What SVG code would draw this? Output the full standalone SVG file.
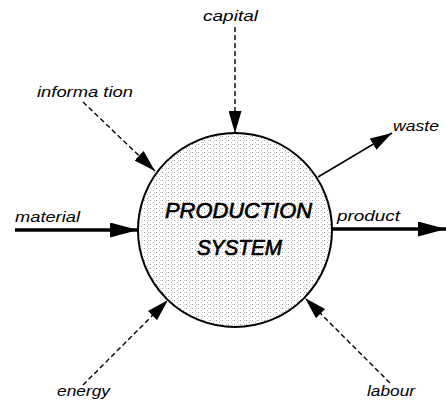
<svg xmlns="http://www.w3.org/2000/svg" width="446" height="405" viewBox="0 0 446 405">
  <style>
    .lbl { font-family: "Liberation Sans", "DejaVu Sans", sans-serif; font-style: italic; font-size: 15px; fill: #000; }
    .big { font-family: "Liberation Sans", "DejaVu Sans", sans-serif; font-style: italic; font-size: 22px; fill: #000; stroke: #000; stroke-width: 0.7; }
    .dash { stroke: #000; stroke-width: 1.4; stroke-dasharray: 5 3; fill: none; }
    .thin { stroke: #000; stroke-width: 1.6; fill: none; }
    .thick { stroke: #000; stroke-width: 3.6; fill: none; }
  </style>
  <defs>
    <pattern id="stipple" width="6" height="4" patternUnits="userSpaceOnUse">
      <rect width="6" height="4" fill="#fff"/>
      <rect x="0" y="0" width="1" height="1" fill="#999"/>
      <rect x="3" y="2" width="1" height="1" fill="#b5b5b5"/>
      <rect x="4" y="0" width="1" height="1" fill="#cccccc"/>
    </pattern>
    <marker id="hs" markerUnits="userSpaceOnUse" viewBox="0 0 22 13" markerWidth="22" markerHeight="13" refX="22" refY="6.5" orient="auto">
      <path d="M0,0 L22,6.5 L0,13 Z" fill="#000"/>
    </marker>
    <marker id="hb" markerUnits="userSpaceOnUse" viewBox="0 0 28 15" markerWidth="28" markerHeight="15" refX="28" refY="7.5" orient="auto">
      <path d="M0,0 L28,7.5 L0,15 Z" fill="#000"/>
    </marker>
  </defs>

  <g id="production-system">
    <circle cx="235" cy="230" r="97" fill="url(#stipple)" stroke="#000" stroke-width="2"/>
    <text class="big" x="165" y="218" textLength="147" lengthAdjust="spacingAndGlyphs">PRODUCTION</text>
    <text class="big" x="197" y="255" textLength="85" lengthAdjust="spacingAndGlyphs">SYSTEM</text>
  </g>

  <g id="labels">
    <g id="capital"><text class="lbl" x="203" y="21" textLength="55" lengthAdjust="spacingAndGlyphs">capital</text></g>
    <g id="information"><text class="lbl" x="37" y="97" textLength="96" lengthAdjust="spacingAndGlyphs">informa tion</text></g>
    <g id="waste"><text class="lbl" x="393" y="131" textLength="46" lengthAdjust="spacingAndGlyphs">waste</text></g>
    <g id="material"><text class="lbl" x="15" y="222" textLength="65" lengthAdjust="spacingAndGlyphs">material</text></g>
    <g id="product"><text class="lbl" x="337" y="221" textLength="63" lengthAdjust="spacingAndGlyphs">product</text></g>
    <g id="energy"><text class="lbl" x="57" y="396" textLength="53" lengthAdjust="spacingAndGlyphs">energy</text></g>
    <g id="labour"><text class="lbl" x="367" y="396" textLength="48" lengthAdjust="spacingAndGlyphs">labour</text></g>
  </g>

  <g id="connectors">
    <line class="dash" x1="235" y1="27" x2="235" y2="133" marker-end="url(#hs)"/>
    <line class="dash" x1="83" y1="102" x2="155" y2="171" marker-end="url(#hs)"/>
    <line class="thin" x1="318" y1="177" x2="392" y2="133" marker-end="url(#hs)"/>
    <line class="thick" x1="15" y1="230" x2="138" y2="230" marker-end="url(#hb)"/>
    <line class="thick" x1="332" y1="229" x2="446" y2="229" marker-end="url(#hb)"/>
    <line class="dash" x1="83" y1="385" x2="168" y2="300" marker-end="url(#hs)"/>
    <line class="dash" x1="390" y1="383" x2="305" y2="298" marker-end="url(#hs)"/>
  </g>
</svg>
